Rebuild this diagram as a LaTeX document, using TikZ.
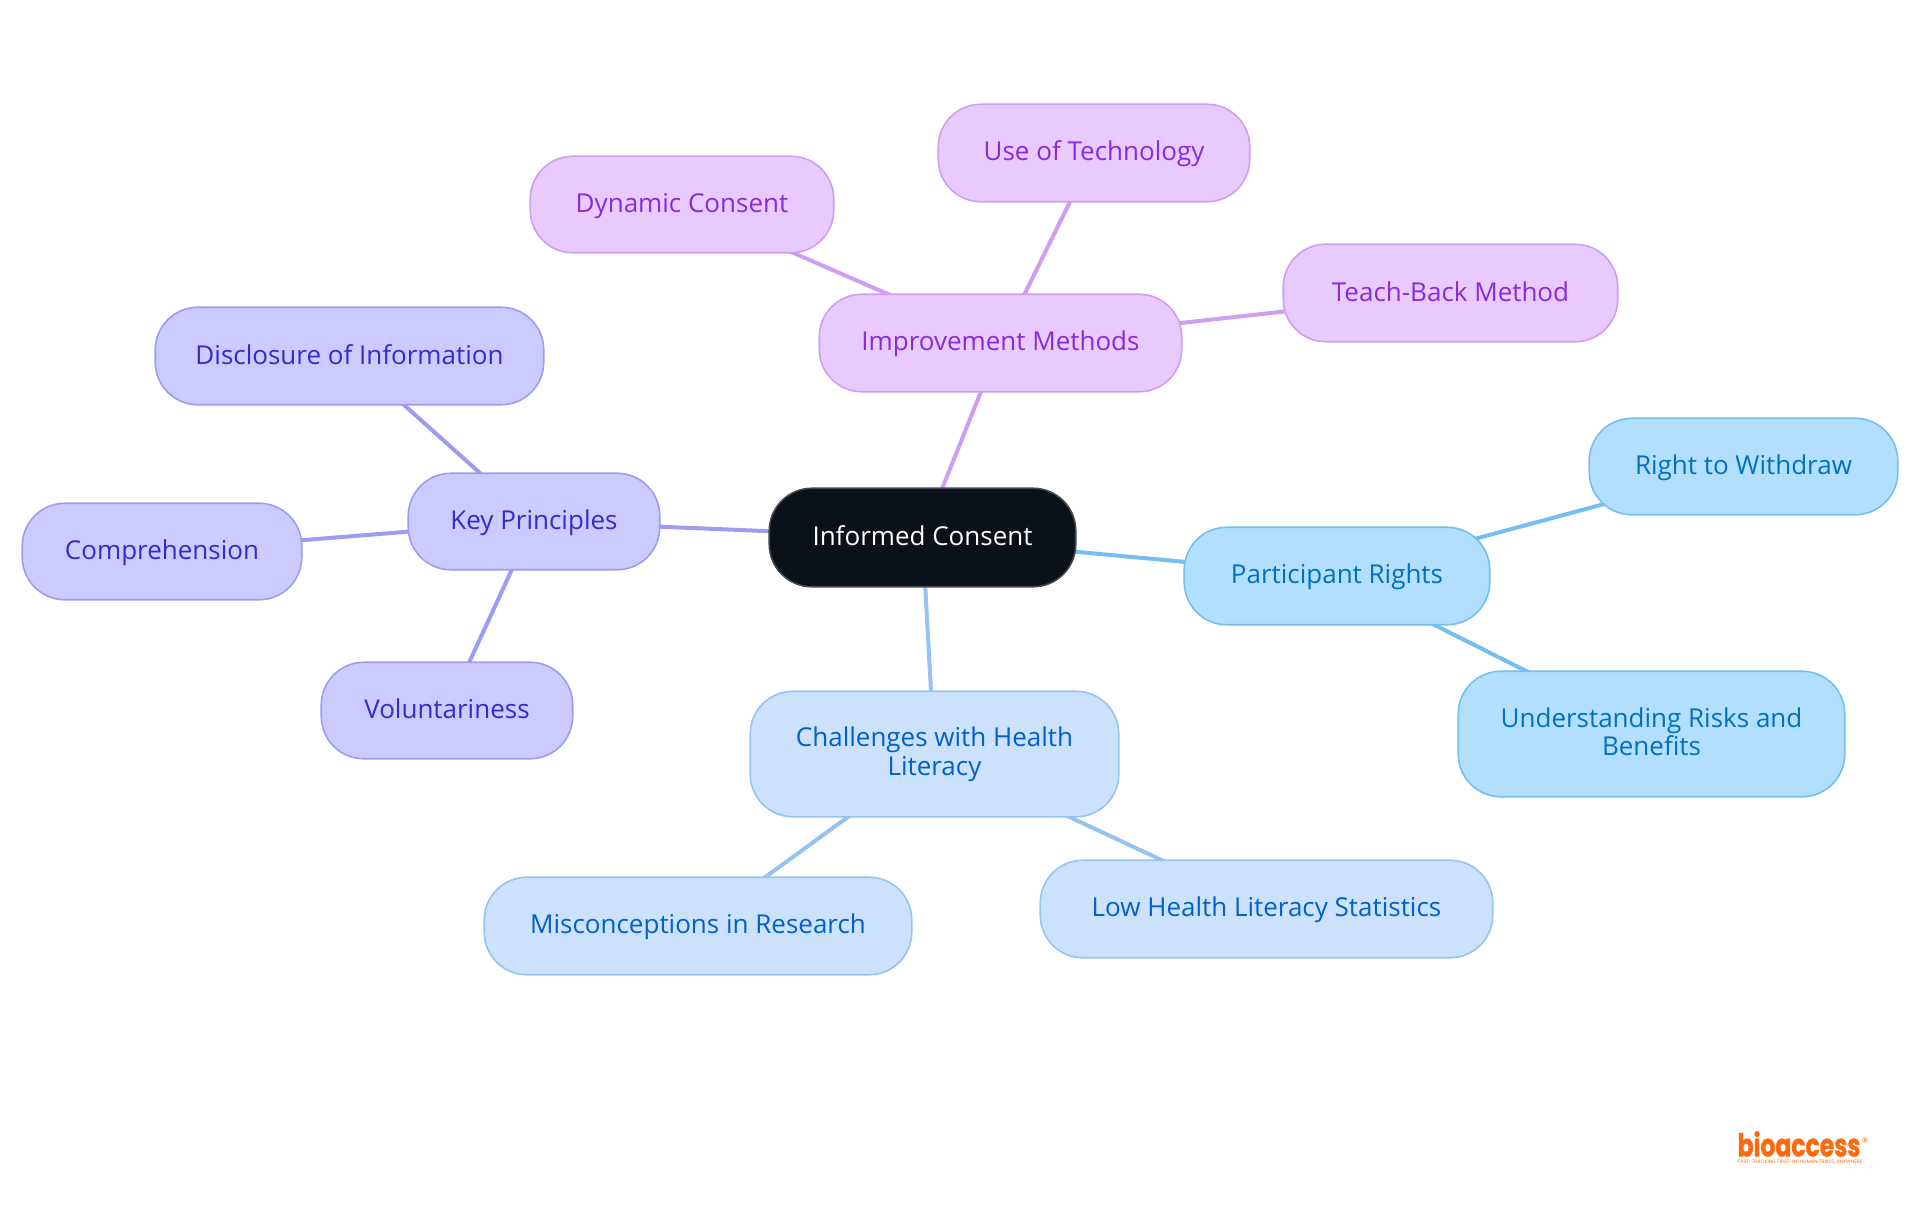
\documentclass[tikz,border=0pt]{standalone}
\usepackage{fontspec}
\usepackage{graphicx}
\setmainfont{Open Sans}
\newfontfamily\logofont{Poppins}[BoldFeatures={FakeBold=1.2}]
\usetikzlibrary{backgrounds}
\definecolor{kpfill}{HTML}{CBCBFF}\definecolor{kpline}{HTML}{9C9CF5}\definecolor{kptext}{HTML}{2F2FC8}
\definecolor{imfill}{HTML}{E8CAFF}\definecolor{imline}{HTML}{CE9EF2}\definecolor{imtext}{HTML}{8A2BD8}
\definecolor{prfill}{HTML}{B3DFFF}\definecolor{prline}{HTML}{73BEF2}\definecolor{prtext}{HTML}{0070C0}
\definecolor{chfill}{HTML}{CCE2FC}\definecolor{chline}{HTML}{96C3F0}\definecolor{chtext}{HTML}{0060CC}
\definecolor{rootfill}{HTML}{0B1119}\definecolor{rootline}{HTML}{44484D}\definecolor{logoc}{HTML}{FF6A10}
\def\u{0.75pt}
\def\topstrut{\rule{0pt}{16.2pt}}
\def\botstrut{\rule[-3.8pt]{0pt}{1pt}}
\tikzset{x=0.75pt,y=-0.75pt,
  box/.style args={#1 by #2}{rectangle,rounded corners=32pt,inner sep=0pt,outer sep=0pt,line width=1.2pt,align=center,
    font=\fontsize{19.5}{21.5}\selectfont,minimum width={(#1-0.5)*\u},minimum height={(#2-0.5)*\u},
    execute at begin node=\topstrut,execute at end node=\botstrut},
  rootbox/.style={box=#1,draw=rootline,fill=rootfill,text=white},
  kpbox/.style={box=#1,draw=kpline,fill=kpfill,text=kptext},
  imbox/.style={box=#1,draw=imline,fill=imfill,text=imtext},
  prbox/.style={box=#1,draw=prline,fill=prfill,text=prtext},
  chbox/.style={box=#1,draw=chline,fill=chfill,text=chtext},
  kpedge/.style={draw=kpline,line width=3pt},
  imedge/.style={draw=imline,line width=3pt},
  predge/.style={draw=prline,line width=3pt},
  chedge/.style={draw=chline,line width=3pt},
  logotext/.style={text=logoc,inner sep=0pt,anchor=base}}
\begin{document}
\begin{tikzpicture}
\useasboundingbox (0,0) rectangle (1920,1215);
\node[rootbox=307 by 99] (root) at (922.5,537.5) {Informed Consent};
\node[kpbox=252 by 97] (kp) at (534,521.5) {Key Principles};
\node[kpbox=389 by 98] (disc) at (349.5,356) {Disclosure of Information};
\node[kpbox=280 by 97] (comp) at (162,551.5) {Comprehension};
\node[kpbox=252 by 97] (vol) at (447,710.5) {Voluntariness};
\node[imbox=363 by 98] (imp) at (1000.5,343) {Improvement Methods};
\node[imbox=304 by 97] (dyn) at (682,204.5) {Dynamic Consent};
\node[imbox=312 by 98] (tech) at (1094,153) {Use of Technology};
\node[imbox=335 by 98] (teach) at (1450.5,293) {Teach-Back Method};
\node[prbox=306 by 98] (part) at (1337,576) {Participant Rights};
\node[prbox=309 by 97] (wd) at (1743.5,466.5) {Right to Withdraw};
\node[prbox=387 by 126] (risk) at (1651.5,734) {Understanding Risks and\\Benefits};
\node[chbox=369 by 126] (chal) at (934.5,754) {Challenges with Health\\Literacy};
\node[chbox=428 by 98] (mis) at (698,926) {Misconceptions in Research};
\node[chbox=453 by 98] (low) at (1266.5,909) {Low Health Literacy Statistics};
\begin{scope}[on background layer]
\draw[kpedge] (root.center) -- (kp.center);
\draw[kpedge] (kp.center) -- (disc.center);
\draw[kpedge] (kp.center) -- (comp.center);
\draw[kpedge] (kp.center) -- (vol.center);
\draw[imedge] (root.center) -- (imp.center);
\draw[imedge] (imp.center) -- (dyn.center);
\draw[imedge] (imp.center) -- (tech.center);
\draw[imedge] (imp.center) -- (teach.center);
\draw[predge] (root.center) -- (part.center);
\draw[predge] (part.center) -- (wd.center);
\draw[predge] (part.center) -- (risk.center);
\draw[chedge] (root.center) -- (chal.center);
\draw[chedge] (chal.center) -- (mis.center);
\draw[chedge] (chal.center) -- (low.center);
\end{scope}
\node[logotext,font=\logofont\bfseries\fontsize{17.6}{18}\selectfont] (logo) at (1799,1156.5) {\scalebox{1}[1.35]{bioaccess}};
\node[logotext,font=\logofont\fontsize{9}{9}\selectfont] (reg) at (1865,1146) {®};
\node[logotext,font=\logofont\fontsize{3.7}{4}\selectfont] (tag) at (1800,1163.5) {FAST-TRACKING FIRST-IN-HUMAN TRIALS, ANYWHERE};
\end{tikzpicture}
\end{document}
